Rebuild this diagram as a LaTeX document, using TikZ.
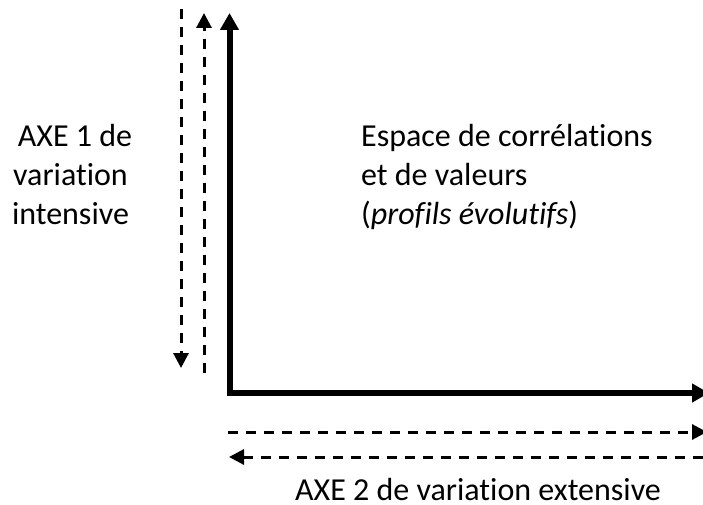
\documentclass[tikz,border=0pt]{standalone}
\usepackage{fontspec}
\setmainfont{Carlito}[Ligatures={NoCommon}]
\usetikzlibrary{arrows.meta}
\begin{document}
\begin{tikzpicture}[x=1pt,y=1pt,
  axis/.style={line width=6pt,-{Triangle[length=17pt,width=18pt]}},
  dashax/.style={line width=3pt,dash pattern=on 10pt off 8pt,-{Triangle[length=15pt,width=15pt]}},
  lbl/.style={font=\fontsize{32}{38.5}\selectfont,inner sep=0pt}]
\useasboundingbox (0,0) rectangle (703,504);
\coordinate (O) at (229.5,111);
\coordinate (Ytop) at (229.5,491);
\coordinate (Xend) at (709,111);
\draw[axis] ([yshift=-3pt]O) -- (Ytop);
\draw[axis] ([xshift=-3pt]O) -- (Xend);
\coordinate (d1s) at (181,495);
\coordinate (d1e) at (181,136);
\draw[dashax] (d1s) -- (d1e);
\coordinate (d2s) at (204,131);
\coordinate (d2e) at (204,491);
\draw[dashax] (d2s) -- (d2e);
\coordinate (h1s) at (228,72);
\coordinate (h1e) at (707,72);
\draw[dashax] (h1s) -- (h1e);
\coordinate (h2s) at (703,47);
\coordinate (h2e) at (229,47);
\draw[dashax] (h2s) -- (h2e);
% left label
\node[lbl,anchor=base] (ax1a) at (75,357.3) {AXE 1 de};
\node[lbl,anchor=base] (ax1b) at (70.5,318.5) {variation};
\node[lbl,anchor=base] (ax1c) at (70.5,280) {intensive};
% right label
\node[lbl,anchor=base west] (espa) at (361,357.3) {Espace de corrélations};
\node[lbl,anchor=base west] (espb) at (361,318.5) {et de valeurs};
\node[lbl,anchor=base west] (espc) at (361,280) {(\textit{profils évolutifs})};
% bottom label
\node[lbl,anchor=base] (ax2) at (478,4) {AXE 2 de variation extensive};
\end{tikzpicture}
\end{document}
